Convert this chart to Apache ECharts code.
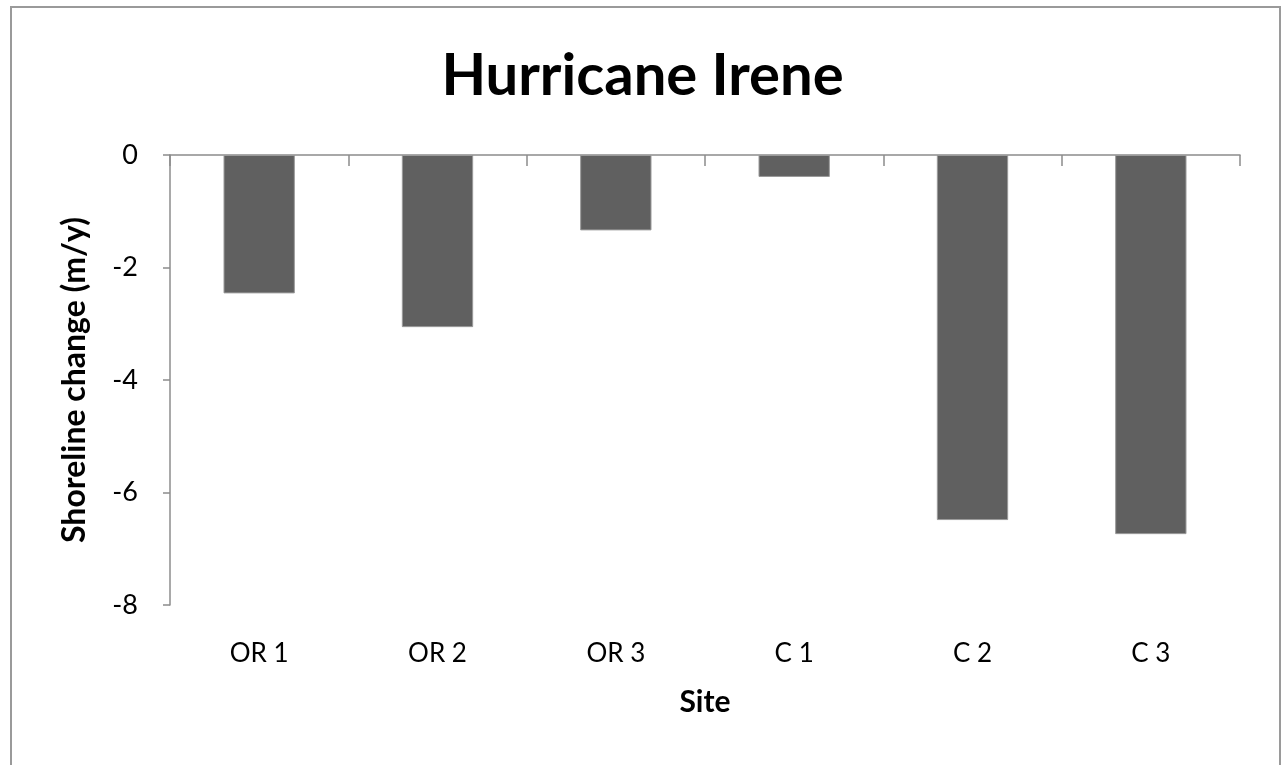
<!DOCTYPE html>
<html>
<head>
<meta charset="utf-8">
<title>Hurricane Irene</title>
<script src="https://cdn.jsdelivr.net/npm/echarts@6/dist/echarts.min.js"></script>
<style>
  html, body { margin: 0; padding: 0; background: #ffffff; }
  #chart { width: 1285px; height: 765px; }
</style>
</head>
<body>
<div id="chart"></div>
<script>
// Shoreline change per survey site (m/y)
const sites = ['OR 1', 'OR 2', 'OR 3', 'C 1', 'C 2', 'C 3'];
const shorelineChange = [-2.46, -3.06, -1.34, -0.39, -6.49, -6.74];
const yTicks = { min: -8, max: 0, interval: 2 };

const FONT = 'Lato, "Open Sans", sans-serif';
const AXIS_GREY = '#8c8c8c';

const chart = echarts.init(document.getElementById('chart'), null, { renderer: 'canvas' });

chart.setOption({
  backgroundColor: '#ffffff',
  animation: false,
  title: {
    text: 'Hurricane Irene',
    left: 'center',
    top: 42,
    textStyle: { fontFamily: FONT, fontWeight: 'bold', fontSize: 58, color: '#000000' }
  },
  graphic: [{
    type: 'rect',
    shape: { x: 11, y: 7, width: 1269, height: 780 },
    style: { fill: 'none', stroke: '#9a9a9a', lineWidth: 2 },
    silent: true
  }],
  grid: { left: 170, right: 45, top: 155, bottom: 160 },
  xAxis: [
    {
      // labels along the bottom of the plot
      type: 'category',
      data: sites,
      position: 'bottom',
      axisLine: { show: false, onZero: false },
      axisTick: { show: false },
      axisLabel: { fontFamily: FONT, fontSize: 26, color: '#000000', margin: 36 },
      name: 'Site',
      nameLocation: 'middle',
      nameGap: 82,
      nameTextStyle: { fontFamily: FONT, fontWeight: 'bold', fontSize: 30, color: '#000000' }
    },
    {
      // category line drawn at zero with ticks hanging into the plot
      type: 'category',
      data: sites,
      position: 'top',
      axisLine: { show: true, lineStyle: { color: AXIS_GREY, width: 1.5 } },
      axisTick: { show: true, inside: true, length: 11, alignWithLabel: false,
                  lineStyle: { color: AXIS_GREY, width: 1.5 } },
      axisLabel: { show: false },
      splitLine: { show: false }
    }
  ],
  yAxis: {
    type: 'value',
    min: yTicks.min,
    max: yTicks.max,
    interval: yTicks.interval,
    axisLine: { show: true, lineStyle: { color: AXIS_GREY, width: 1.5 } },
    axisTick: { show: true, length: 7, lineStyle: { color: AXIS_GREY, width: 1.5 } },
    splitLine: { show: false },
    axisLabel: { fontFamily: FONT, fontSize: 27, color: '#000000', margin: 32 },
    name: 'Shoreline change (m/y)',
    nameLocation: 'middle',
    nameGap: 79,
    nameTextStyle: { fontFamily: FONT, fontWeight: 'bold', fontSize: 32, color: '#000000' }
  },
  series: [{
    type: 'bar',
    xAxisIndex: 0,
    data: shorelineChange,
    barWidth: '40%',
    itemStyle: { color: '#606060', borderColor: '#9a9a9a', borderWidth: 1 }
  }]
});
</script>
</body>
</html>
